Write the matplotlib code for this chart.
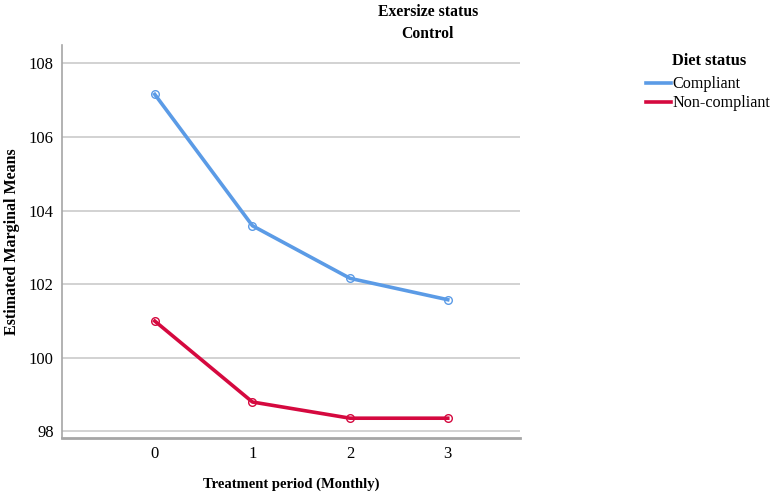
import matplotlib.pyplot as plt
from matplotlib.lines import Line2D

plt.rcParams['font.family'] = ['Liberation Serif', 'DejaVu Serif']

months = [0, 1, 2, 3]
compliant = [107.16, 103.59, 102.16, 101.58]
non_compliant = [101.0, 98.8, 98.36, 98.36]
y_ticks = [98, 100, 102, 104, 106, 108]

blue = '#5b9be6'
red = '#d5093f'

fig = plt.figure(figsize=(7.75, 4.95), dpi=100)
ax = fig.add_axes([0.08, 0.115, 0.591, 0.794])

ax.plot(months, compliant, color=blue, lw=2.6, marker='o', ms=5.5,
        mfc='none', mec=blue, mew=1.0, zorder=3)
ax.plot(months, non_compliant, color=red, lw=2.6, marker='o', ms=5.5,
        mfc='none', mec=red, mew=1.0, zorder=3)

ax.set_xlim(-0.95, 3.74)
ax.set_ylim(97.82, 108.5)
ax.set_xticks(months)
ax.set_yticks(y_ticks)
ax.yaxis.grid(True, color='#cfcfcf', lw=1.3)
ax.set_axisbelow(True)
ax.tick_params(length=0, labelsize=12, pad=6)

for s in ['top', 'right']:
    ax.spines[s].set_visible(False)
ax.spines['left'].set_color('#a6a6a6')
ax.spines['left'].set_linewidth(1.2)
ax.spines['bottom'].set_color('#a6a6a6')
ax.spines['bottom'].set_linewidth(2.0)

ax.set_xlabel('Treatment period (Monthly)', fontsize=10.5, fontweight='bold', labelpad=11)
ax.set_ylabel('Estimated Marginal Means', fontsize=11.5, fontweight='bold', labelpad=6)

fig.text(0.552, 0.975, 'Exersize status', ha='center', va='center', fontsize=11.3, fontweight='bold')
fig.text(0.552, 0.931, 'Control', ha='center', va='center', fontsize=11.3, fontweight='bold')

# legend: title sits above the labels, handles hang to the left
fig.text(0.867, 0.876, 'Diet status', ha='left', va='center', fontsize=11.8, fontweight='bold')
handles = [Line2D([], [], color=blue, lw=2.6), Line2D([], [], color=red, lw=2.6)]
ax.legend(handles, ['Compliant', 'Non-compliant'], loc='upper left',
          bbox_to_anchor=(0.834, 0.846), bbox_transform=fig.transFigure,
          frameon=False, fontsize=11.6, handlelength=1.5, handletextpad=0.12,
          labelspacing=0.2, borderpad=0, borderaxespad=0)

fig.savefig('out.png', dpi=100)
